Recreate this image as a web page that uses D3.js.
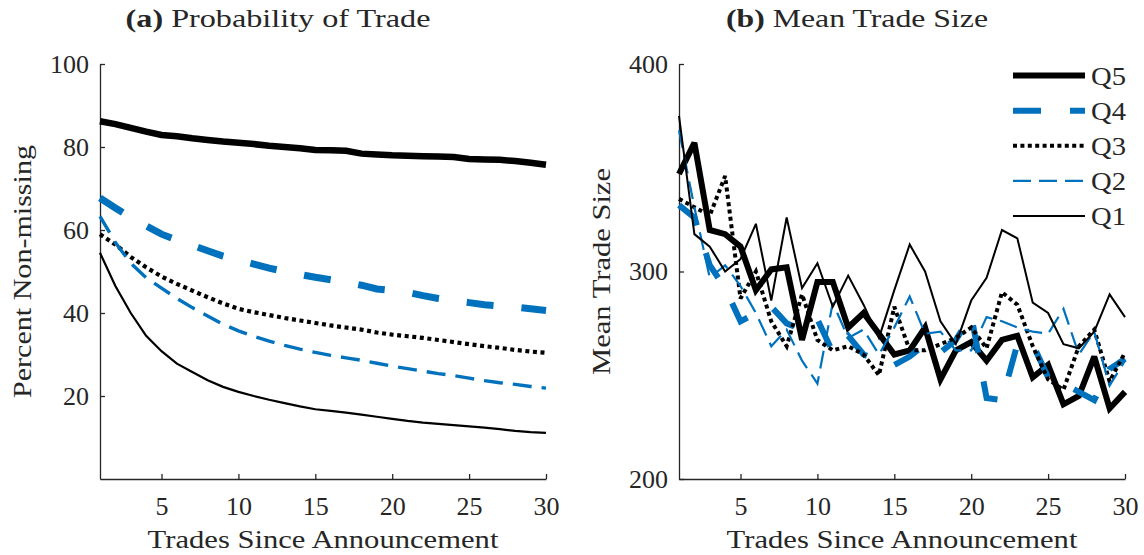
<!DOCTYPE html>
<html>
<head>
<meta charset="utf-8">
<script src="https://cdn.jsdelivr.net/npm/d3@7"></script>
<style>
  html, body { margin: 0; padding: 0; background: #fff; }
  svg { display: block; }
  text { font-family: "Liberation Serif", "DejaVu Serif", serif; fill: #262626; }
</style>
</head>
<body>
<svg id="chart" width="1144" height="555"></svg>
<script>
// ---------------- DATA ----------------
const trades = d3.range(1, 31); // 1..30
const xTicks = [5, 10, 15, 20, 25, 30];
const probTicks = [20, 40, 60, 80, 100];
const sizeTicks = [200, 300, 400];
const quintiles = ["Q5", "Q4", "Q3", "Q2", "Q1"];

// Panel (a): Percent non-missing
const probQ5 = [86.2,85.5,84.6,83.7,82.9,82.6,82.1,81.7,81.3,81.0,80.7,80.3,80.0,79.7,79.3,79.2,79.1,78.4,78.2,78.0,77.9,77.8,77.7,77.6,77.1,77.0,76.9,76.6,76.2,75.7];
const probQ4 = [67.7,65.3,63.0,61.0,59.0,57.6,56.3,55.0,53.7,52.7,51.8,50.8,50.0,49.3,48.6,48.0,47.4,46.7,45.8,45.4,45.0,44.2,43.5,43.0,42.5,42.0,41.7,41.4,41.0,40.6];
const probQ3 = [59.0,56.5,53.5,51.0,48.8,47.0,45.4,43.8,42.3,41.0,40.2,39.5,38.8,38.2,37.6,37.0,36.5,36.0,35.3,34.8,34.4,34.0,33.5,33.0,32.5,32.0,31.6,31.1,30.7,30.4];
const probQ2 = [63.3,57.0,52.0,48.5,46.0,43.5,41.3,39.3,37.3,35.7,34.4,33.2,32.2,31.3,30.5,29.8,29.2,28.6,27.9,27.2,26.6,26.0,25.4,24.9,24.3,23.7,23.2,22.8,22.3,21.9];
const probQ1 = [54.5,46.5,40.0,34.5,30.8,27.8,25.8,23.8,22.2,21.0,20.0,19.1,18.3,17.5,16.8,16.4,16.0,15.5,15.0,14.5,14.0,13.6,13.3,13.0,12.7,12.4,12.0,11.6,11.3,11.1];

// Panel (b): Mean trade size
const sizeQ5 = [347,362,320,318,312,291,301,302,267,295,295,273,280,270,260,262,273,248,262,266,257,267,269,249,255,236,240,259,234,242];
const sizeQ4 = [332,326,303,292,276,280,283,275,272,277,261,269,260,257,255,259,265,261,267,279,239,238,265,265,249,246,242,238,253,258];
const sizeQ3 = [335,331,327,346,287,300,276,264,289,267,262,264,260,250,283,262,262,265,268,273,263,290,284,264,248,243,264,272,247,261];
const sizeQ2 = [368,331,297,303,293,280,264,272,257,246,285,268,272,260,273,288,270,271,262,262,278,276,273,271,270,282,260,271,245,257];
const sizeQ1 = [375,318,312,300,306,323,286,326,292,304,283,298,284,268,291,313,300,276,265,286,297,320,316,285,280,265,263,271,289,278];

// ---------------- STYLES ----------------
const BLUE = "#0072BD", BLACK = "#000000", AXIS = "#262626";
const FONT = 26;
const styleL = {
  Q5: { color: BLACK, width: 6.5, dash: null },
  Q4: { color: BLUE,  width: 7,   dash: "27,28" },
  Q3: { color: BLACK, width: 4.2, dash: "4,3.6" },
  Q2: { color: BLUE,  width: 3.4, dash: "19,10" },
  Q1: { color: BLACK, width: 2.2, dash: null }
};
const styleR = {
  Q5: { color: BLACK, width: 6,   dash: null },
  Q4: { color: BLUE,  width: 6,   dash: "28,29" },
  Q3: { color: BLACK, width: 4,   dash: "4,3.4" },
  Q2: { color: BLUE,  width: 2.2, dash: "18,8" },
  Q1: { color: BLACK, width: 2,   dash: null }
};

const svg = d3.select("#chart");

function styleAxis(g) {
  g.select(".domain").attr("stroke", AXIS).attr("stroke-width", 1.3);
  g.selectAll(".tick line").attr("stroke", AXIS).attr("stroke-width", 1.3);
  g.selectAll(".tick text")
    .attr("font-family", "Liberation Serif, DejaVu Serif, serif")
    .attr("font-size", FONT).attr("fill", AXIS);
  g.attr("font-family", null).attr("font-size", null);
}

// stretch text horizontally to mimic the wider Computer Modern glyphs
function fitText(sel, target, x, y, rotate) {
  const w = sel.node().getComputedTextLength();
  const s = target / w;
  sel.attr("x", 0).attr("y", 0)
     .attr("transform", `translate(${x},${y})` + (rotate ? ` rotate(${rotate})` : "") + ` scale(${s},1)`);
}

function panel(cfg) {
  const { x, y, yTicks, series, styles, title, titleBold, titleX, titleW, ylabel, ylabelX, ylabelW } = cfg;
  const g = svg.append("g");
  const y0 = y.range()[0];
  const x0 = x.range()[0];

  // axes
  g.append("g").attr("transform", `translate(0,${y0})`)
    .call(d3.axisBottom(x).tickValues(xTicks).tickSizeInner(-5).tickSizeOuter(0).tickPadding(18))
    .call(styleAxis);
  g.append("g").attr("transform", `translate(${x0},0)`)
    .call(d3.axisLeft(y).tickValues(yTicks).tickSizeInner(-5).tickSizeOuter(0).tickPadding(11))
    .call(styleAxis);

  // lines (draw Q1 first, Q5 last? keep MATLAB order: Q5 plotted first)
  const line = d3.line().x((d, i) => x(trades[i])).y(d => y(d));
  quintiles.forEach(q => {
    const st = styles[q];
    g.append("path")
      .datum(series[q])
      .attr("d", line)
      .attr("fill", "none")
      .attr("stroke", st.color)
      .attr("stroke-width", st.width)
      .attr("stroke-dasharray", st.dash)
      .attr("stroke-linejoin", "miter")
      .attr("stroke-miterlimit", 3)
      .attr("stroke-linecap", "butt");
  });

  // x label
  const xl = g.append("text").attr("font-size", FONT).attr("text-anchor", "middle")
    .text("Trades Since Announcement");
  fitText(xl, 351, (x.range()[0] + x.range()[1]) / 2, 548);

  // y label
  const yl = g.append("text").attr("font-size", FONT).attr("text-anchor", "middle")
    .text(ylabel);
  fitText(yl, ylabelW, ylabelX, (y.range()[0] + y.range()[1]) / 2, -90);

  // title
  const t = g.append("text").attr("font-size", FONT).attr("text-anchor", "middle");
  t.append("tspan").attr("font-weight", "bold").text(titleBold);
  t.append("tspan").text(" " + title);
  fitText(t, titleW, titleX, 27);

  return g;
}

const xL = d3.scaleLinear().domain([1, 30]).range([100, 546]);
const yL = d3.scaleLinear().domain([0, 100]).range([479, 64]);
const xR = d3.scaleLinear().domain([1, 30]).range([679, 1125]);
const yR = d3.scaleLinear().domain([200, 400]).range([479, 64]);

panel({
  x: xL, y: yL, yTicks: probTicks,
  series: { Q5: probQ5, Q4: probQ4, Q3: probQ3, Q2: probQ2, Q1: probQ1 },
  styles: styleL,
  titleBold: "(a)", title: "Probability of Trade", titleX: 278, titleW: 305,
  ylabel: "Percent Non-missing", ylabelX: 31, ylabelW: 253
});

const right = panel({
  x: xR, y: yR, yTicks: sizeTicks,
  series: { Q5: sizeQ5, Q4: sizeQ4, Q3: sizeQ3, Q2: sizeQ2, Q1: sizeQ1 },
  styles: styleR,
  titleBold: "(b)", title: "Mean Trade Size", titleX: 857, titleW: 262,
  ylabel: "Mean Trade Size", ylabelX: 610, ylabelW: 207
});

// legend (right panel)
const legY = d3.scaleLinear().domain([0, 4]).range([75.5, 216]);
const leg = right.append("g");
quintiles.forEach((q, i) => {
  const st = styleR[q];
  const yy = legY(i);
  leg.append("line")
    .attr("x1", 1013).attr("x2", 1085).attr("y1", yy).attr("y2", yy)
    .attr("stroke", st.color).attr("stroke-width", st.width)
    .attr("stroke-dasharray", st.dash).attr("stroke-linecap", "butt");
  const lt = leg.append("text").attr("font-size", FONT).text(q);
  fitText(lt, 35, 1091, yy + 9);
});
</script>
</body>
</html>
